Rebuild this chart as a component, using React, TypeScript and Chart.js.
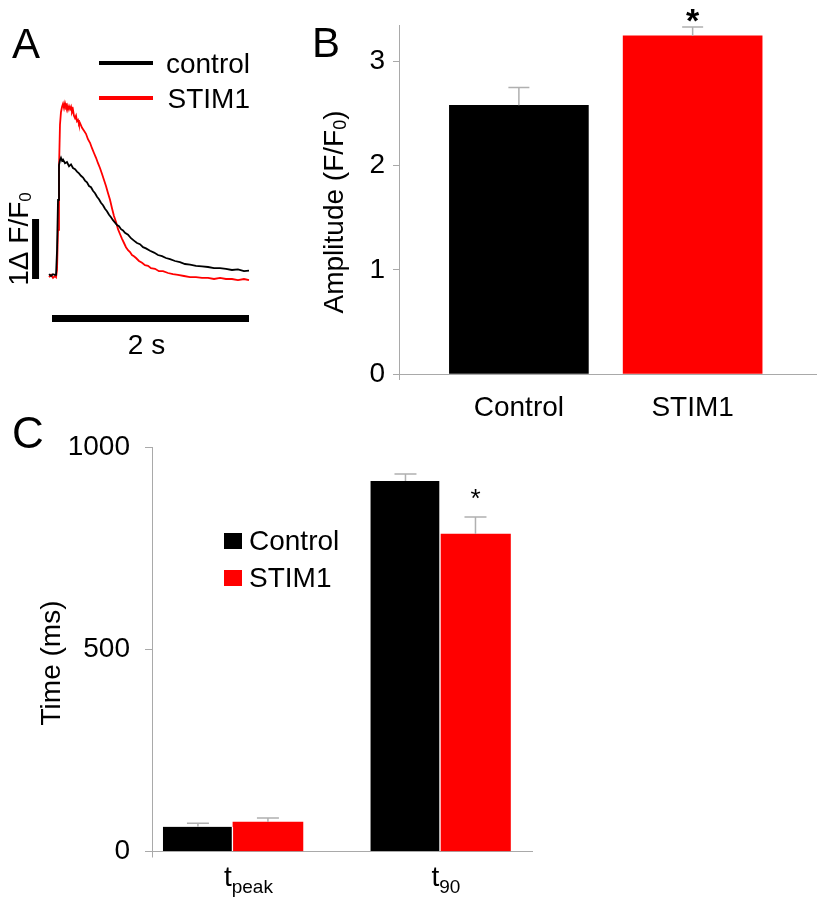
import React, { useEffect, useRef } from 'react';
import { Chart, registerables } from 'chart.js';

Chart.register(...registerables);

const FONT = "'Liberation Sans', Arial, Helvetica, sans-serif";
const AXIS_GRAY = '#a9a9a9';
const ERR_GRAY = '#b0b0b0';
const BLACK = '#000000';
const RED = '#ff0000';

// ---------- Panel A: Ca2+ transients (time in ms, F/F0) ----------
const traceSeries = ['control', 'STIM1'];
const controlTraceT = [-30, -10, 10, 30, 41, 51, 61, 71, 81, 91, 102, 112, 132, 152, 173, 193, 213, 234, 254, 274, 294, 315, 335, 355, 376, 396, 416, 437, 457, 477, 497, 518, 538, 558, 579, 599, 619, 640, 660, 680, 701, 721, 741, 772, 802, 832, 863, 893, 924, 954, 995, 1036, 1076, 1117, 1157, 1198, 1249, 1299, 1350, 1401, 1462, 1523, 1584, 1645, 1706, 1766, 1827, 1888, 1949, 2000];
const controlTraceF = [1.03, 1.0, 1.03, 1.02, 1.02, 1.43, 2.27, 2.85, 2.93, 2.97, 2.92, 2.94, 2.88, 2.9, 2.83, 2.86, 2.8, 2.78, 2.74, 2.71, 2.67, 2.64, 2.59, 2.56, 2.5, 2.48, 2.42, 2.38, 2.32, 2.28, 2.22, 2.18, 2.12, 2.08, 2.02, 1.98, 1.93, 1.89, 1.85, 1.83, 1.78, 1.76, 1.72, 1.69, 1.63, 1.59, 1.55, 1.53, 1.48, 1.46, 1.42, 1.39, 1.35, 1.33, 1.3, 1.28, 1.25, 1.23, 1.2, 1.19, 1.17, 1.16, 1.15, 1.13, 1.13, 1.12, 1.1, 1.11, 1.08, 1.09];
const stimTraceT = [-30, -10, 10, 30, 41, 51, 61, 71, 81, 91, 102, 112, 122, 132, 142, 152, 162, 173, 183, 193, 203, 213, 223, 234, 244, 254, 264, 274, 284, 305, 325, 345, 365, 386, 406, 426, 447, 467, 487, 508, 528, 548, 569, 589, 609, 629, 650, 670, 690, 711, 731, 751, 772, 792, 812, 832, 853, 883, 914, 944, 975, 1005, 1046, 1086, 1127, 1178, 1228, 1279, 1340, 1401, 1462, 1523, 1584, 1645, 1706, 1766, 1827, 1888, 1949, 2000];
const stimTraceF = [0.98, 1.02, 0.97, 1.0, 0.98, 1.1, 1.77, 2.77, 3.52, 3.73, 3.82, 3.87, 3.8, 3.88, 3.82, 3.85, 3.77, 3.83, 3.78, 3.82, 3.73, 3.77, 3.67, 3.63, 3.67, 3.58, 3.6, 3.53, 3.55, 3.47, 3.42, 3.37, 3.28, 3.22, 3.13, 3.05, 2.97, 2.88, 2.8, 2.7, 2.6, 2.5, 2.38, 2.27, 2.13, 2.0, 1.9, 1.78, 1.7, 1.62, 1.55, 1.48, 1.43, 1.4, 1.35, 1.33, 1.3, 1.25, 1.22, 1.18, 1.17, 1.13, 1.12, 1.08, 1.08, 1.05, 1.03, 1.02, 1.0, 0.98, 0.98, 0.97, 0.97, 0.95, 0.97, 0.95, 0.95, 0.93, 0.95, 0.93];
const scaleBarTimeMs = 2000;
const scaleBarAmp = 1;

// ---------- Panel B: amplitude ----------
const ampCategories = ['Control', 'STIM1'];
const ampMean = [2.58, 3.245];
const ampSEM = [0.17, 0.085];
const ampSig = [false, true];
const ampTicks = [0, 1, 2, 3];

// ---------- Panel C: kinetics ----------
const timeCatBase = ['t', 't'];
const timeCatSub = ['peak', '90'];
const timeSeries = ['Control', 'STIM1'];
const controlTime = [61, 916];
const controlTimeSEM = [9, 17];
const controlTimeSig = [false, false];
const stimTime = [73, 785];
const stimTimeSEM = [10, 42];
const stimTimeSig = [false, true];
const timeTicks = [0, 500, 1000];

type Part = { t: string; sub?: boolean };

function drawRich(ctx: CanvasRenderingContext2D, parts: Part[], x: number, y: number, size: number, subSize: number, drop: number, rotate: boolean, align: 'center' | 'left') {
  ctx.save();
  ctx.translate(x, y);
  if (rotate) ctx.rotate(-Math.PI / 2);
  const fonts = parts.map((p) => `${p.sub ? subSize : size}px ${FONT}`);
  const widths = parts.map((p, i) => {
    ctx.font = fonts[i];
    return ctx.measureText(p.t).width;
  });
  const total = widths.reduce((a, b) => a + b, 0);
  let cx = align === 'center' ? -total / 2 : 0;
  ctx.textBaseline = 'alphabetic';
  ctx.textAlign = 'left';
  ctx.fillStyle = BLACK;
  parts.forEach((p, i) => {
    ctx.font = fonts[i];
    ctx.fillText(p.t, cx, p.sub ? drop : 0);
    cx += widths[i];
  });
  ctx.restore();
}

const errorBarPlugin = {
  id: 'errorBars',
  afterDatasetsDraw(chart: any, _args: any, opts: any) {
    const { ctx } = chart;
    const yScale = chart.scales.y;
    chart.data.datasets.forEach((ds: any, di: number) => {
      if (!ds.errors) return;
      const meta = chart.getDatasetMeta(di);
      meta.data.forEach((bar: any, i: number) => {
        const v = ds.data[i].y;
        const yTop = yScale.getPixelForValue(v + ds.errors[i]);
        ctx.save();
        ctx.strokeStyle = opts.color || ERR_GRAY;
        ctx.lineWidth = 1.5;
        ctx.beginPath();
        ctx.moveTo(bar.x, bar.y);
        ctx.lineTo(bar.x, yTop);
        ctx.moveTo(bar.x - opts.cap / 2, yTop);
        ctx.lineTo(bar.x + opts.cap / 2, yTop);
        ctx.stroke();
        if (ds.sig && ds.sig[i]) {
          ctx.fillStyle = BLACK;
          ctx.font = `${opts.starBold ? 'bold ' : ''}${opts.starSize}px ${FONT}`;
          ctx.textAlign = 'center';
          ctx.textBaseline = 'alphabetic';
          const m = ctx.measureText('*');
          const cy = yTop - opts.starGap;
          const base = cy - (m.actualBoundingBoxDescent - m.actualBoundingBoxAscent) / 2;
          ctx.fillText('*', bar.x, base);
        }
        ctx.restore();
      });
    });
  },
};

function makeA(canvas: HTMLCanvasElement) {
  const W = canvas.width;
  const H = canvas.height;
  const x0 = 52; // pixel of t = 0
  const pxPerMs = 0.0985;
  const y1 = 276; // pixel of F/F0 = 1
  const pxPerF = 60;
  const vBarT = -167;
  const vBarF0 = 0.95;
  const hBarF = 0.29;
  const annot = {
    id: 'annotA',
    afterDraw(chart: any) {
      const { ctx } = chart;
      ctx.save();
      ctx.fillStyle = BLACK;
      ctx.font = `42px ${FONT}`;
      ctx.textAlign = 'left';
      ctx.textBaseline = 'alphabetic';
      ctx.fillText('A', 12, 58);
      const rows = [63, 98];
      rows.forEach((ry, i) => {
        const ds = chart.data.datasets[i];
        ctx.strokeStyle = ds.borderColor;
        ctx.lineWidth = 4;
        ctx.beginPath();
        ctx.moveTo(99, ry);
        ctx.lineTo(153, ry);
        ctx.stroke();
        ctx.font = `28px ${FONT}`;
        ctx.textAlign = 'right';
        ctx.textBaseline = 'middle';
        ctx.fillText(ds.label, 250, ry + 2);
      });
      const xs = chart.scales.x;
      ctx.font = `28px ${FONT}`;
      ctx.textAlign = 'center';
      ctx.textBaseline = 'alphabetic';
      ctx.fillText(`${scaleBarTimeMs / 1000} s`, xs.getPixelForValue(scaleBarTimeMs / 2) - 4, 354);
      ctx.restore();
      drawRich(ctx, [{ t: `${scaleBarAmp}Δ F/F` }, { t: '0', sub: true }], 28, 239, 28, 17, 3, true, 'center');
    },
  };
  return new Chart(canvas, {
    type: 'line',
    data: {
      datasets: [
        { label: traceSeries[0], data: controlTraceT.map((t, i) => ({ x: t, y: controlTraceF[i] })), borderColor: BLACK, borderWidth: 1.8, pointRadius: 0, tension: 0 },
        { label: traceSeries[1], data: stimTraceT.map((t, i) => ({ x: t, y: stimTraceF[i] })), borderColor: RED, borderWidth: 1.8, pointRadius: 0, tension: 0 },
        { label: 'ampBar', data: [{ x: vBarT, y: vBarF0 }, { x: vBarT, y: vBarF0 + scaleBarAmp }], borderColor: BLACK, borderWidth: 7, pointRadius: 0, borderCapStyle: 'butt' },
        { label: 'timeBar', data: [{ x: 0, y: hBarF }, { x: scaleBarTimeMs, y: hBarF }], borderColor: BLACK, borderWidth: 7, pointRadius: 0, borderCapStyle: 'butt' },
      ],
    } as any,
    options: {
      responsive: false,
      animation: false,
      layout: { padding: 0 },
      scales: {
        x: { type: 'linear', display: false, min: -x0 / pxPerMs, max: (W - x0) / pxPerMs },
        y: { type: 'linear', display: false, min: 1 - (H - y1) / pxPerF, max: 1 + y1 / pxPerF },
      },
      plugins: { legend: { display: false }, tooltip: { enabled: false } },
    } as any,
    plugins: [annot],
  });
}

function makeB(canvas: HTMLCanvasElement) {
  const annot = {
    id: 'annotB',
    afterDraw(chart: any) {
      const { ctx, chartArea } = chart;
      ctx.save();
      ctx.fillStyle = BLACK;
      ctx.font = `42px ${FONT}`;
      ctx.textAlign = 'left';
      ctx.textBaseline = 'alphabetic';
      ctx.fillText('B', 22, 57);
      ctx.strokeStyle = AXIS_GRAY;
      ctx.lineWidth = 1;
      ctx.beginPath();
      ctx.moveTo(chartArea.left + 0.5, chartArea.bottom);
      ctx.lineTo(chartArea.left + 0.5, chartArea.bottom + 6);
      ctx.stroke();
      ctx.restore();
      drawRich(ctx, [{ t: 'Amplitude (F/F' }, { t: '0', sub: true }, { t: ')' }], 53, 212, 28, 18, 3, true, 'center');
    },
  };
  return new Chart(canvas, {
    type: 'bar',
    data: {
      datasets: [
        {
          label: 'Amplitude',
          data: ampMean.map((v, i) => ({ x: i, y: v })),
          backgroundColor: [BLACK, RED],
          barThickness: 139,
          errors: ampSEM,
          sig: ampSig,
        },
      ],
    } as any,
    options: {
      responsive: false,
      animation: false,
      layout: { padding: { top: 25, right: 4, left: 0, bottom: 0 } },
      scales: {
        x: {
          type: 'linear',
          min: -0.69,
          max: 1.71,
          offset: false,
          grid: { drawOnChartArea: false, drawTicks: false, offset: false },
          border: { display: true, color: AXIS_GRAY, width: 1 },
          afterBuildTicks: (s: any) => { s.ticks = ampCategories.map((_, i) => ({ value: i })); },
          afterFit: (s: any) => { s.height = 56; },
          ticks: { callback: (v: any) => ampCategories[v] ?? '', font: { family: FONT, size: 28 }, color: BLACK, padding: 17, maxRotation: 0, autoSkip: false },
        },
        y: {
          min: 0,
          max: 3.35,
          afterBuildTicks: (s: any) => { s.ticks = ampTicks.map((v) => ({ value: v })); },
          afterFit: (s: any) => { s.width = 109; },
          grid: { drawOnChartArea: false, drawTicks: true, tickLength: 6, color: AXIS_GRAY },
          border: { display: true, color: AXIS_GRAY, width: 1 },
          ticks: { callback: (v: any) => String(v), font: { family: FONT, size: 28 }, color: BLACK, padding: 8 },
        },
      },
      plugins: {
        legend: { display: false },
        tooltip: { enabled: false },
        errorBars: { cap: 21, starSize: 34, starBold: true, starGap: 12 },
      },
    } as any,
    plugins: [errorBarPlugin, annot],
  });
}

function makeC(canvas: HTMLCanvasElement) {
  const annot = {
    id: 'annotC',
    afterDraw(chart: any) {
      const { ctx, chartArea } = chart;
      ctx.save();
      ctx.fillStyle = BLACK;
      ctx.font = `44px ${FONT}`;
      ctx.textAlign = 'left';
      ctx.textBaseline = 'alphabetic';
      ctx.fillText('C', 12, 48);
      ctx.strokeStyle = AXIS_GRAY;
      ctx.lineWidth = 1;
      ctx.beginPath();
      ctx.moveTo(chartArea.left + 0.5, chartArea.bottom);
      ctx.lineTo(chartArea.left + 0.5, chartArea.bottom + 6);
      ctx.stroke();
      // legend
      const rows = [141, 178];
      rows.forEach((ry, i) => {
        const ds = chart.data.datasets[i];
        ctx.fillStyle = ds.backgroundColor;
        ctx.fillRect(224, ry - 8, 18, 16);
        ctx.fillStyle = BLACK;
        ctx.font = `28px ${FONT}`;
        ctx.textAlign = 'left';
        ctx.textBaseline = 'middle';
        ctx.fillText(ds.label, 249, ry + 1);
      });
      ctx.restore();
      drawRich(ctx, [{ t: 'Time (ms)' }], 60, 263, 28, 18, 0, true, 'center');
      const xs = chart.scales.x;
      timeCatBase.forEach((b, i) => {
        const px = xs.getPixelForValue(i);
        drawRich(ctx, [{ t: b }, { t: timeCatSub[i], sub: true }], px - 9, 486, 28, 19, 7, false, 'left');
      });
    },
  };
  return new Chart(canvas, {
    type: 'bar',
    data: {
      datasets: [
        {
          label: timeSeries[0],
          data: controlTime.map((v, i) => ({ x: i, y: v })),
          backgroundColor: BLACK,
          borderColor: '#ffffff',
          borderWidth: { top: 0, left: 0, bottom: 0, right: 1.5 },
          barThickness: 70,
          errors: controlTimeSEM,
          sig: controlTimeSig,
        },
        {
          label: timeSeries[1],
          data: stimTime.map((v, i) => ({ x: i, y: v })),
          backgroundColor: RED,
          barThickness: 70,
          errors: stimTimeSEM,
          sig: stimTimeSig,
        },
      ],
    } as any,
    options: {
      responsive: false,
      animation: false,
      layout: { padding: { top: 47, right: 28, left: 0, bottom: 0 } },
      scales: {
        x: {
          type: 'linear',
          min: -0.39,
          max: 1.441,
          offset: false,
          grid: { drawOnChartArea: false, drawTicks: false, offset: false },
          border: { display: true, color: AXIS_GRAY, width: 1 },
          afterBuildTicks: (s: any) => { s.ticks = timeCatBase.map((_, i) => ({ value: i })); },
          afterFit: (s: any) => { s.height = 52.5; },
          ticks: { display: false },
        },
        y: {
          min: 0,
          max: 1000,
          afterBuildTicks: (s: any) => { s.ticks = timeTicks.map((v) => ({ value: v })); },
          afterFit: (s: any) => { s.width = 152; },
          grid: { drawOnChartArea: false, drawTicks: true, tickLength: 7, color: AXIS_GRAY },
          border: { display: true, color: AXIS_GRAY, width: 1 },
          ticks: { callback: (v: any) => String(v), font: { family: FONT, size: 28 }, color: BLACK, padding: 15 },
        },
      },
      plugins: {
        legend: { display: false },
        tooltip: { enabled: false },
        errorBars: { cap: 22, starSize: 26, starBold: false, starGap: 23 },
      },
    } as any,
    plugins: [errorBarPlugin, annot],
  });
}

export default function App() {
  const aRef = useRef<HTMLCanvasElement>(null);
  const bRef = useRef<HTMLCanvasElement>(null);
  const cRef = useRef<HTMLCanvasElement>(null);
  useEffect(() => {
    const charts = [makeA(aRef.current!), makeB(bRef.current!), makeC(cRef.current!)];
    return () => charts.forEach((c) => c.destroy());
  }, []);
  return (
    <div style={{ position: 'absolute', left: 0, top: 0, width: 820, height: 904, background: '#ffffff', overflow: 'hidden' }}>
      <canvas ref={aRef} width={280} height={370} style={{ position: 'absolute', left: 0, top: 0 }} />
      <canvas ref={bRef} width={530} height={430} style={{ position: 'absolute', left: 290, top: 0 }} />
      <canvas ref={cRef} width={560} height={504} style={{ position: 'absolute', left: 0, top: 400 }} />
    </div>
  );
}
